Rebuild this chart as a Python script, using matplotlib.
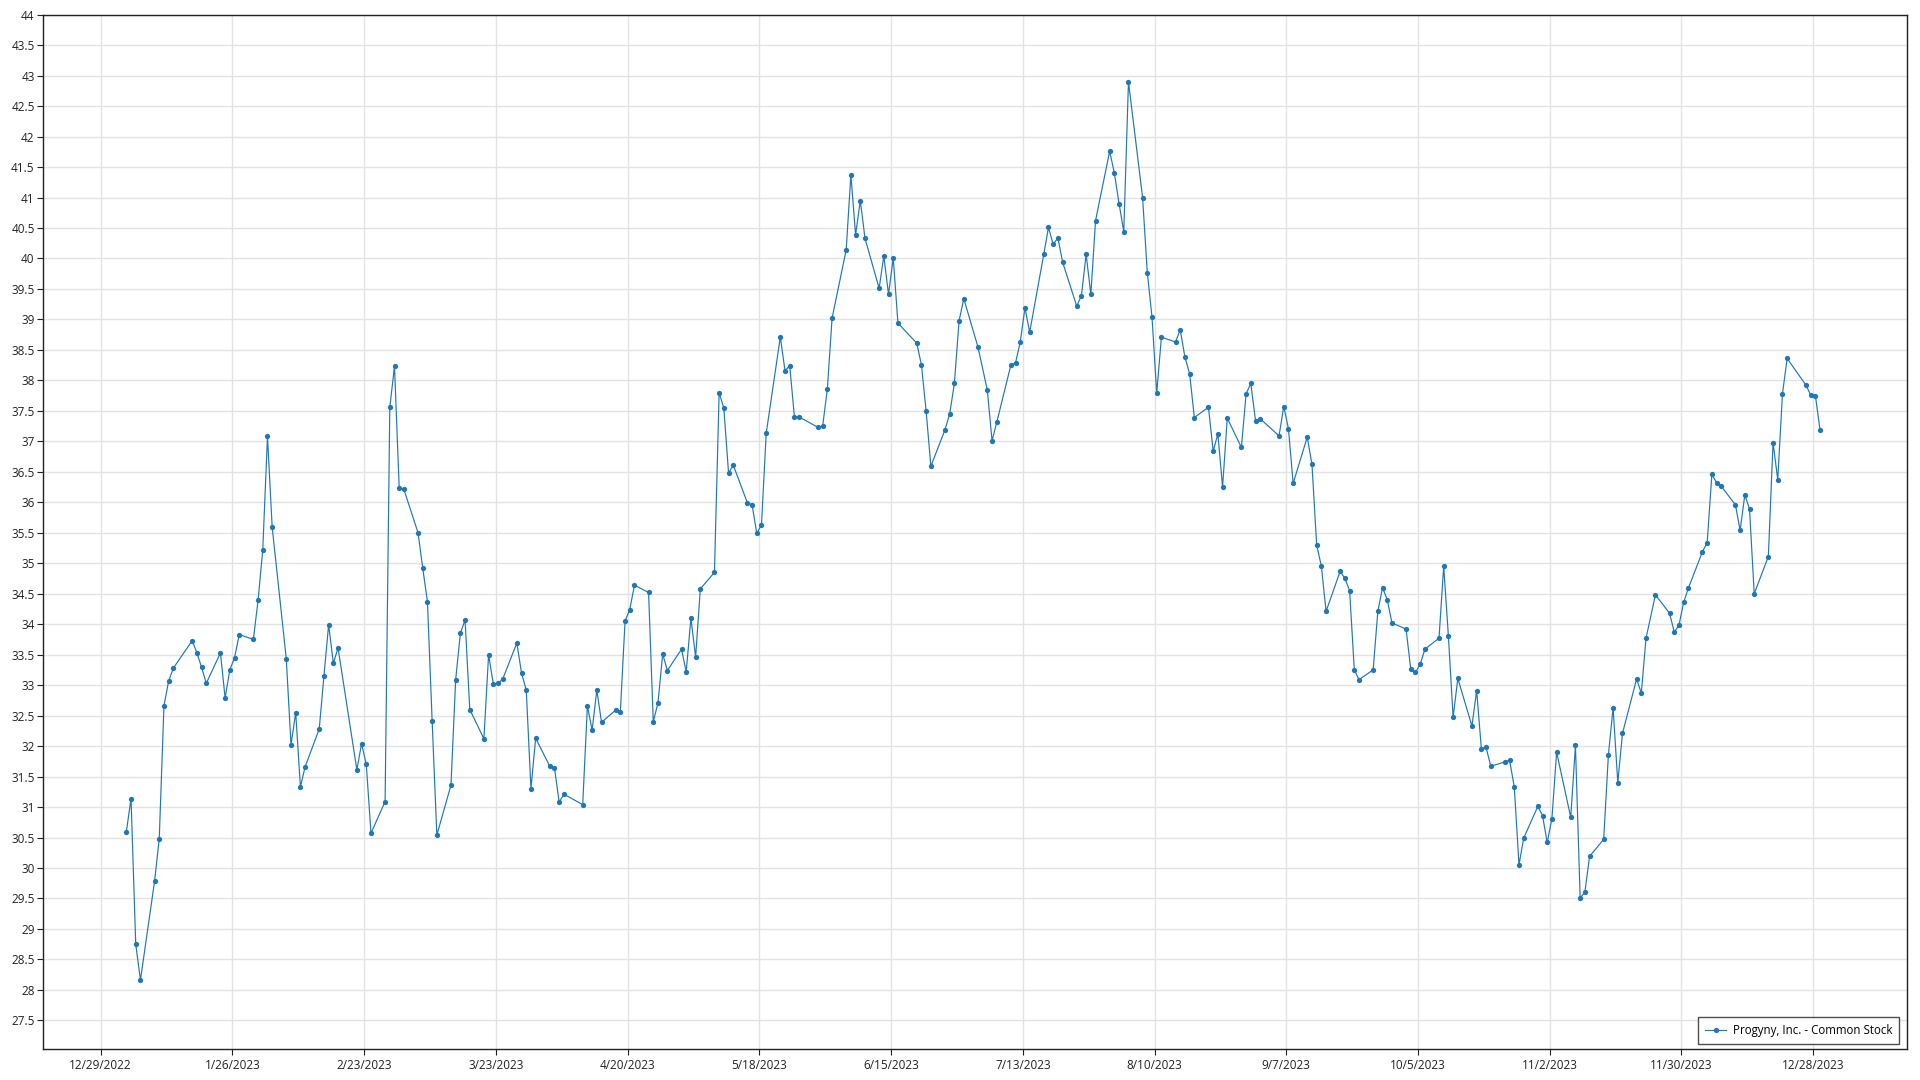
import matplotlib
matplotlib.use("Agg")
import matplotlib.pyplot as plt
from matplotlib.ticker import FixedLocator, FuncFormatter
import numpy as np
import pandas as pd

# ---- data -------------------------------------------------------------
series_name = "Progyny, Inc. - Common Stock"

dates = [
    "2023-01-03", "2023-01-04", "2023-01-05", "2023-01-06", "2023-01-09", "2023-01-10", "2023-01-11", "2023-01-12",
    "2023-01-13", "2023-01-17", "2023-01-18", "2023-01-19", "2023-01-20", "2023-01-23", "2023-01-24", "2023-01-25",
    "2023-01-26", "2023-01-27", "2023-01-30", "2023-01-31", "2023-02-01", "2023-02-02", "2023-02-03", "2023-02-06",
    "2023-02-07", "2023-02-08", "2023-02-09", "2023-02-10", "2023-02-13", "2023-02-14", "2023-02-15", "2023-02-16",
    "2023-02-17", "2023-02-21", "2023-02-22", "2023-02-23", "2023-02-24", "2023-02-27", "2023-02-28", "2023-03-01",
    "2023-03-02", "2023-03-03", "2023-03-06", "2023-03-07", "2023-03-08", "2023-03-09", "2023-03-10", "2023-03-13",
    "2023-03-14", "2023-03-15", "2023-03-16", "2023-03-17", "2023-03-20", "2023-03-21", "2023-03-22", "2023-03-23",
    "2023-03-24", "2023-03-27", "2023-03-28", "2023-03-29", "2023-03-30", "2023-03-31", "2023-04-03", "2023-04-04",
    "2023-04-05", "2023-04-06", "2023-04-10", "2023-04-11", "2023-04-12", "2023-04-13", "2023-04-14", "2023-04-17",
    "2023-04-18", "2023-04-19", "2023-04-20", "2023-04-21", "2023-04-24", "2023-04-25", "2023-04-26", "2023-04-27",
    "2023-04-28", "2023-05-01", "2023-05-02", "2023-05-03", "2023-05-04", "2023-05-05", "2023-05-08", "2023-05-09",
    "2023-05-10", "2023-05-11", "2023-05-12", "2023-05-15", "2023-05-16", "2023-05-17", "2023-05-18", "2023-05-19",
    "2023-05-22", "2023-05-23", "2023-05-24", "2023-05-25", "2023-05-26", "2023-05-30", "2023-05-31", "2023-06-01",
    "2023-06-02", "2023-06-05", "2023-06-06", "2023-06-07", "2023-06-08", "2023-06-09", "2023-06-12", "2023-06-13",
    "2023-06-14", "2023-06-15", "2023-06-16", "2023-06-20", "2023-06-21", "2023-06-22", "2023-06-23", "2023-06-26",
    "2023-06-27", "2023-06-28", "2023-06-29", "2023-06-30", "2023-07-03", "2023-07-05", "2023-07-06", "2023-07-07",
    "2023-07-10", "2023-07-11", "2023-07-12", "2023-07-13", "2023-07-14", "2023-07-17", "2023-07-18", "2023-07-19",
    "2023-07-20", "2023-07-21", "2023-07-24", "2023-07-25", "2023-07-26", "2023-07-27", "2023-07-28", "2023-07-31",
    "2023-08-01", "2023-08-02", "2023-08-03", "2023-08-04", "2023-08-07", "2023-08-08", "2023-08-09", "2023-08-10",
    "2023-08-11", "2023-08-14", "2023-08-15", "2023-08-16", "2023-08-17", "2023-08-18", "2023-08-21", "2023-08-22",
    "2023-08-23", "2023-08-24", "2023-08-25", "2023-08-28", "2023-08-29", "2023-08-30", "2023-08-31", "2023-09-01",
    "2023-09-05", "2023-09-06", "2023-09-07", "2023-09-08", "2023-09-11", "2023-09-12", "2023-09-13", "2023-09-14",
    "2023-09-15", "2023-09-18", "2023-09-19", "2023-09-20", "2023-09-21", "2023-09-22", "2023-09-25", "2023-09-26",
    "2023-09-27", "2023-09-28", "2023-09-29", "2023-10-02", "2023-10-03", "2023-10-04", "2023-10-05", "2023-10-06",
    "2023-10-09", "2023-10-10", "2023-10-11", "2023-10-12", "2023-10-13", "2023-10-16", "2023-10-17", "2023-10-18",
    "2023-10-19", "2023-10-20", "2023-10-23", "2023-10-24", "2023-10-25", "2023-10-26", "2023-10-27", "2023-10-30",
    "2023-10-31", "2023-11-01", "2023-11-02", "2023-11-03", "2023-11-06", "2023-11-07", "2023-11-08", "2023-11-09",
    "2023-11-10", "2023-11-13", "2023-11-14", "2023-11-15", "2023-11-16", "2023-11-17", "2023-11-20", "2023-11-21",
    "2023-11-22", "2023-11-24", "2023-11-27", "2023-11-28", "2023-11-29", "2023-11-30", "2023-12-01", "2023-12-04",
    "2023-12-05", "2023-12-06", "2023-12-07", "2023-12-08", "2023-12-11", "2023-12-12", "2023-12-13", "2023-12-14",
    "2023-12-15", "2023-12-18", "2023-12-19", "2023-12-20", "2023-12-21", "2023-12-22", "2023-12-26", "2023-12-27",
    "2023-12-28", "2023-12-29",
]

prices = [
    30.59, 31.14, 28.75, 28.16, 29.78, 30.48, 32.66, 33.07,
    33.28, 33.73, 33.53, 33.29, 33.03, 33.53, 32.79, 33.25,
    33.45, 33.83, 33.75, 34.39, 35.22, 37.08, 35.59, 33.43,
    32.02, 32.55, 31.33, 31.66, 32.28, 33.15, 33.99, 33.36,
    33.61, 31.61, 32.04, 31.70, 30.57, 31.09, 37.56, 38.23,
    36.23, 36.21, 35.50, 34.92, 34.37, 32.41, 30.54, 31.36,
    33.09, 33.85, 34.07, 32.60, 32.12, 33.50, 33.02, 33.03,
    33.10, 33.69, 33.20, 32.92, 31.30, 32.13, 31.67, 31.64,
    31.08, 31.21, 31.04, 32.66, 32.26, 32.92, 32.39, 32.59,
    32.56, 34.05, 34.24, 34.64, 34.52, 32.40, 32.71, 33.51,
    33.24, 33.59, 33.22, 34.10, 33.46, 34.58, 34.85, 37.80,
    37.54, 36.48, 36.61, 35.99, 35.96, 35.49, 35.63, 37.13,
    38.71, 38.16, 38.24, 37.40, 37.40, 37.23, 37.25, 37.86,
    39.02, 40.14, 41.37, 40.39, 40.95, 40.33, 39.51, 40.04,
    39.41, 40.01, 38.94, 38.61, 38.25, 37.49, 36.59, 37.19,
    37.45, 37.95, 38.98, 39.34, 38.55, 37.84, 37.01, 37.31,
    38.25, 38.29, 38.63, 39.19, 38.79, 40.07, 40.51, 40.23,
    40.34, 39.94, 39.22, 39.39, 40.07, 39.41, 40.62, 41.76,
    41.40, 40.90, 40.44, 42.90, 41.00, 39.77, 39.04, 37.79,
    38.71, 38.63, 38.83, 38.38, 38.11, 37.39, 37.56, 36.84,
    37.12, 36.25, 37.38, 36.90, 37.78, 37.95, 37.34, 37.37,
    37.09, 37.57, 37.21, 36.31, 37.07, 36.62, 35.30, 34.95,
    34.21, 34.87, 34.75, 34.55, 33.25, 33.09, 33.25, 34.21,
    34.60, 34.40, 34.02, 33.92, 33.26, 33.21, 33.34, 33.59,
    33.77, 34.95, 33.80, 32.47, 33.11, 32.33, 32.91, 31.96,
    31.98, 31.67, 31.74, 31.77, 31.33, 30.05, 30.49, 31.01,
    30.86, 30.42, 30.81, 31.90, 30.83, 32.01, 29.51, 29.60,
    30.19, 30.47, 31.85, 32.63, 31.40, 32.21, 33.10, 32.87,
    33.77, 34.48, 34.18, 33.87, 33.98, 34.36, 34.59, 35.19,
    35.34, 36.46, 36.32, 36.26, 35.96, 35.54, 36.12, 35.89,
    34.50, 35.11, 36.98, 36.37, 37.78, 38.36, 37.92, 37.76,
    37.75, 37.18,
]

x_tick_dates = [
    "2022-12-29", "2023-01-26", "2023-02-23", "2023-03-23", "2023-04-20", "2023-05-18", "2023-06-15",
    "2023-07-13", "2023-08-10", "2023-09-07", "2023-10-05", "2023-11-02", "2023-11-30", "2023-12-28",
]
x_tick_labels = [
    "12/29/2022", "1/26/2023", "2/23/2023", "3/23/2023", "4/20/2023", "5/18/2023", "6/15/2023",
    "7/13/2023", "8/10/2023", "9/7/2023", "10/5/2023", "11/2/2023", "11/30/2023", "12/28/2023",
]
y_tick_values = [27.5, 28, 28.5, 29, 29.5, 30, 30.5, 31, 31.5, 32, 32.5, 33, 33.5, 34, 34.5, 35,
                 35.5, 36, 36.5, 37, 37.5, 38, 38.5, 39, 39.5, 40, 40.5, 41, 41.5, 42, 42.5, 43, 43.5, 44]

# ---- plot -------------------------------------------------------------
plt.rcParams["font.family"] = ["Open Sans", "DejaVu Sans"]

fig = plt.figure(figsize=(19.2, 10.8), dpi=100)
ax = fig.add_axes([0.0224, 0.0287, 0.9708, 0.9577])

# points sit roughly half a day right of the date gridlines in the reference
x = pd.to_datetime(dates) + pd.Timedelta(hours=11)
line_color = "#1f77b4"
ax.plot(x, prices, color=line_color, lw=0.85, marker="o", ms=3.8,
        markeredgewidth=0, label=series_name, zorder=3)

ax.set_xlim(pd.Timestamp("2022-12-16 18:00"), pd.Timestamp("2024-01-16 22:00"))
ax.set_ylim(27.03, 44)

ax.set_xticks(pd.to_datetime(x_tick_dates))
ax.set_xticklabels(x_tick_labels)
ax.yaxis.set_major_locator(FixedLocator(y_tick_values))
ax.yaxis.set_major_formatter(FuncFormatter(lambda v, p: f"{v:g}"))

ax.grid(True, color="#e3e3e3", lw=1.0, zorder=0)
ax.set_axisbelow(True)
for s in ax.spines.values():
    s.set_color("#222222")
    s.set_linewidth(1.0)

ax.tick_params(axis="both", labelsize=8.5, colors="#222222", length=4, width=0.8)
ax.tick_params(axis="y", pad=2)
ax.tick_params(axis="x", pad=3)

leg = ax.legend(loc="lower right", frameon=True, fancybox=False, fontsize=8.3,
                borderpad=0.6, handlelength=1.8, handletextpad=0.6, borderaxespad=0,
                bbox_to_anchor=(0.996, 0.0047))
leg.get_frame().set_edgecolor("#222222")
leg.get_frame().set_linewidth(1.0)

fig.savefig("out.png", dpi=100)
